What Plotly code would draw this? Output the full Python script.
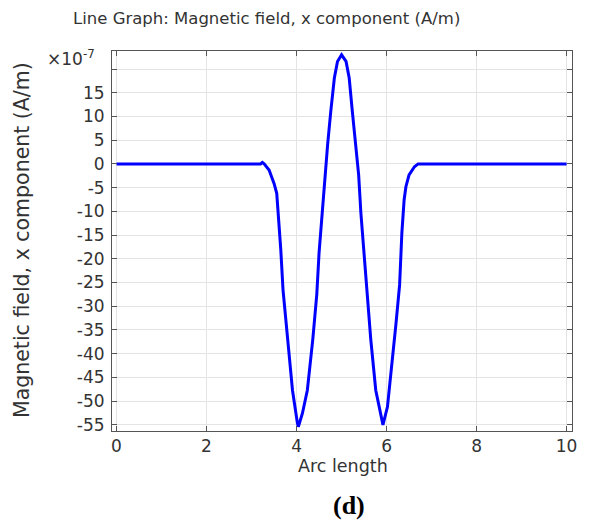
import plotly.graph_objects as go

# Arc length values
arc_length = [0, 3.20, 3.24, 3.28, 3.39, 3.50, 3.56, 3.60, 3.65, 3.70, 3.80, 3.91,
              4.02, 4.04, 4.13, 4.24, 4.36, 4.45, 4.50, 4.58, 4.64, 4.69, 4.76,
              4.84, 4.91, 5.00, 5.10, 5.17, 5.24, 5.32, 5.38, 5.43, 5.50, 5.56,
              5.65, 5.76, 5.88, 5.92, 6.02, 6.10, 6.21, 6.29, 6.34, 6.39, 6.43,
              6.50, 6.62, 6.70, 10.0]
# Magnetic field x component, in units of 1e-7 A/m
hx_e7 = [0, 0, 0.3, 0, -1.3, -4.1, -6.2, -11.1, -18.1, -26.6, -37.1, -47.7,
         -54.7, -55.4, -52.6, -47.7, -37.1, -27.5, -18.8, -8.3, -2.0, 4.0, 11.0,
         18.1, 21.6, 23.0, 21.6, 18.1, 11.0, 4.0, -2.3, -10.4, -18.8, -27.5,
         -37.1, -47.7, -53.3, -55.0, -51.2, -44.2, -33.6, -25.5, -14.6, -7.6, -4.8,
         -2.3, -0.6, 0, 0]

x_ticks = [0, 2, 4, 6, 8, 10]
y_ticks = [-55, -50, -45, -40, -35, -30, -25, -20, -15, -10, -5, 0, 5, 10, 15, 20]
y_tick_text = ["-55", "-50", "-45", "-40", "-35", "-30", "-25", "-20", "-15",
               "-10", "-5", "0", "5", "10", "15", ""]

FONT = "DejaVu Sans"
TXT = "#333333"

# page body has an 8px margin; figure is sized/placed to compensate
W, H = 585, 517
ML, MR, MT, MB = 104, 21, 43, 94
PW, PH = W - ML - MR, H - MT - MB  # 460 x 380


def px_x(page_x):
    return (page_x - 8 - ML) / PW


def px_y(page_y):
    return (H - MB - (page_y - 8)) / PH


fig = go.Figure()
fig.add_trace(go.Scatter(
    x=arc_length, y=hx_e7, mode="lines",
    line=dict(color="#0000ff", width=3),
    showlegend=False,
))

axis_common = dict(
    showline=True, linecolor="#555555", linewidth=1, mirror="ticks",
    ticks="inside", ticklen=5, tickcolor="#555555", tickwidth=1,
    showgrid=True, gridcolor="#e4e4e4", gridwidth=1,
    zeroline=False, automargin=False,
    tickfont=dict(family=FONT, size=17, color=TXT),
)

fig.update_layout(
    width=W, height=H,
    margin=dict(l=ML, r=MR, t=MT, b=MB, autoexpand=False),
    paper_bgcolor="white", plot_bgcolor="white",
    font=dict(family=FONT, color=TXT),
    xaxis=dict(range=[-0.1, 10.12], tickvals=x_ticks, **axis_common),
    yaxis=dict(range=[-56.3, 23.8], tickvals=y_ticks, ticktext=y_tick_text,
               ticklabelstandoff=3, **axis_common),
    annotations=[
        dict(text="Line Graph: Magnetic field, x component (A/m)",
             x=px_x(266), y=px_y(19),
             xref="paper", yref="paper", xanchor="center", yanchor="middle",
             showarrow=False, font=dict(family=FONT, size=16.5, color=TXT)),
        dict(text="Arc length", x=px_x(343), y=px_y(466),
             xref="paper", yref="paper", xanchor="center", yanchor="middle",
             showarrow=False, font=dict(family=FONT, size=17.5, color=TXT)),
        dict(text="Magnetic field, x component (A/m)", x=px_x(22), y=px_y(240),
             xref="paper", yref="paper", xanchor="center", yanchor="middle",
             textangle=-90, showarrow=False,
             font=dict(family=FONT, size=20.5, color=TXT)),
        dict(text="×10<sup>-7</sup>", x=px_x(71), y=px_y(58),
             xref="paper", yref="paper", xanchor="center", yanchor="middle",
             showarrow=False, font=dict(family=FONT, size=17, color=TXT)),
        dict(text="<b>(d)</b>", x=px_x(349), y=px_y(505),
             xref="paper", yref="paper", xanchor="center", yanchor="middle",
             showarrow=False,
             font=dict(family="Liberation Serif", size=26, color="#000000")),
    ],
)

fig.write_html("out.html")
